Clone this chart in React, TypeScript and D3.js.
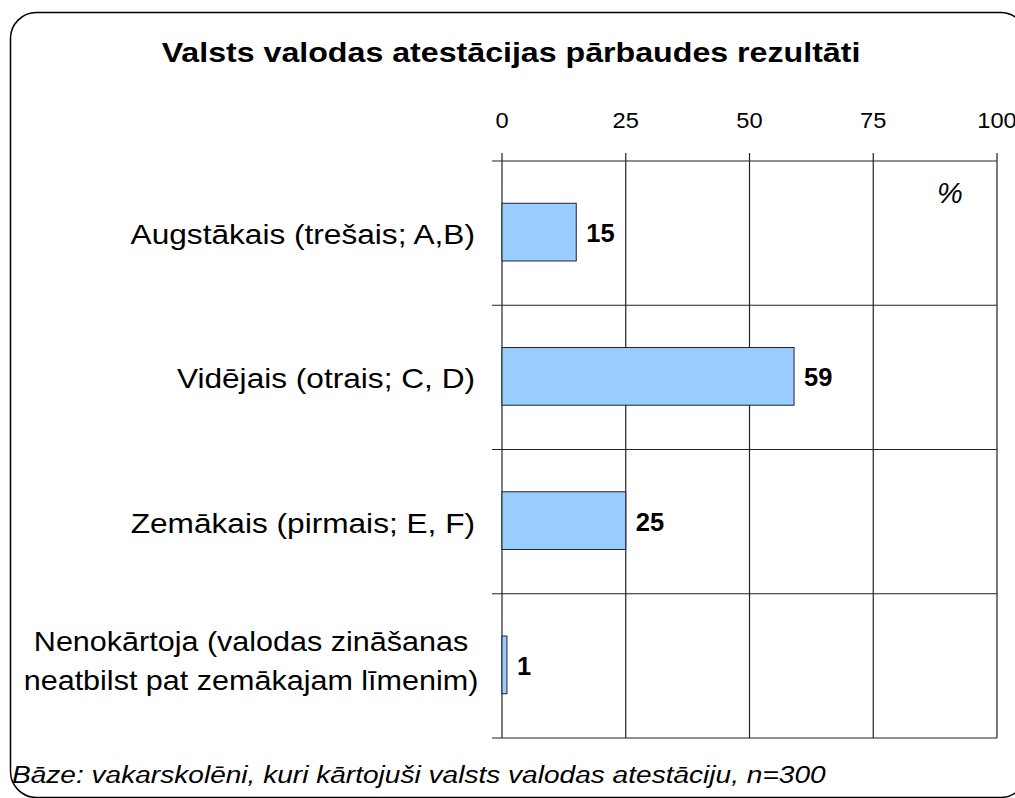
import React, { useEffect, useRef } from 'react'
import * as d3 from 'd3'

const title = 'Valsts valodas atestācijas pārbaudes rezultāti'
const footnote = 'Bāze: vakarskolēni, kuri kārtojuši valsts valodas atestāciju, n=300'
const categories = [
  ['Augstākais (trešais; A,B)'],
  ['Vidējais (otrais; C, D)'],
  ['Zemākais (pirmais; E, F)'],
  ['Nenokārtoja (valodas zināšanas', 'neatbilst pat zemākajam līmenim)'],
]
const values = [15, 59, 25, 1]
const ticks = [0, 25, 50, 75, 100]

const W = 1015
const H = 798
const FONT = '"Liberation Sans", Arial, sans-serif'
// text in the source image is a bit wider than it is tall
const SX = 1.17

export default function App() {
  const ref = useRef<SVGSVGElement>(null)

  useEffect(() => {
    const svg = d3.select(ref.current)
    svg.selectAll('*').remove()

    const left = 502
    const right = 997
    const top = 161
    const bottom = 738

    const stretched = (x: number, y: number, sx = SX) => `translate(${x},${y}) scale(${sx},1)`

    // frame
    svg.append('rect')
      .attr('x', 10.5).attr('y', 12.5)
      .attr('width', 1016).attr('height', 785)
      .attr('rx', 26)
      .attr('fill', 'white')
      .attr('stroke', '#000')
      .attr('stroke-width', 1.5)

    svg.append('text')
      .attr('transform', stretched(511, 62))
      .attr('text-anchor', 'middle')
      .attr('font-family', FONT)
      .attr('font-weight', 'bold')
      .attr('font-size', 27.5)
      .text(title)

    const x = d3.scaleLinear().domain([0, 100]).range([left, right])
    const y = d3.scaleBand<number>()
      .domain(d3.range(categories.length))
      .range([top, bottom])

    const grid = svg.append('g').attr('stroke', '#222').attr('stroke-width', 1.2)

    // vertical gridlines with ticks above
    grid.selectAll('line.v')
      .data(ticks)
      .join('line')
      .attr('class', 'v')
      .attr('x1', d => x(d)).attr('x2', d => x(d))
      .attr('y1', top - 8).attr('y2', bottom)

    // horizontal band boundaries with ticks to the left
    const bounds = d3.range(categories.length + 1).map(i => top + i * y.step())
    grid.selectAll('line.h')
      .data(bounds)
      .join('line')
      .attr('class', 'h')
      .attr('x1', left - 10).attr('x2', right)
      .attr('y1', d => d).attr('y2', d => d)

    // tick labels on top (the last one runs off the edge, as in the source)
    svg.append('g')
      .selectAll('text')
      .data(ticks)
      .join('text')
      .attr('transform', d => stretched(x(d), 128, 1.1))
      .attr('text-anchor', 'middle')
      .attr('font-family', FONT)
      .attr('font-size', 21.5)
      .text(d => d)

    // bars
    const barH = y.bandwidth() * 0.4
    svg.append('g')
      .selectAll('rect')
      .data(values)
      .join('rect')
      .attr('x', left)
      .attr('y', (_, i) => y(i)! + y.bandwidth() / 2 - barH / 2 - 1)
      .attr('width', d => x(d) - left)
      .attr('height', barH)
      .attr('fill', '#99ccff')
      .attr('stroke', '#223')
      .attr('stroke-width', 1)

    // value labels
    svg.append('g')
      .selectAll('text')
      .data(values)
      .join('text')
      .attr('x', d => x(d) + 10)
      .attr('y', (_, i) => y(i)! + y.bandwidth() / 2 + 9)
      .attr('font-family', FONT)
      .attr('font-weight', 'bold')
      .attr('font-size', 25.5)
      .text(d => d)

    // category labels: single lines right-aligned, wrapped ones centred
    const cat = svg.append('g')
      .selectAll('g')
      .data(categories)
      .join('g')
    cat.selectAll('text')
      .data((d, i) => d.map((line, j) => ({
        line,
        multi: d.length > 1,
        y: y(i)! + y.bandwidth() / 2 + 11 - (d.length - 1) * 26 + j * 39,
      })))
      .join('text')
      .attr('transform', d => d.multi
        ? stretched(251, d.y, 1.11)
        : stretched(left - 27, d.y, 1.15))
      .attr('text-anchor', d => (d.multi ? 'middle' : 'end'))
      .attr('font-family', FONT)
      .attr('font-size', 27.5)
      .text(d => d.line)

    svg.append('text')
      .attr('x', 950).attr('y', 203)
      .attr('text-anchor', 'middle')
      .attr('font-family', FONT)
      .attr('font-style', 'italic')
      .attr('font-size', 29)
      .text('%')

    svg.append('text')
      .attr('transform', stretched(12, 783))
      .attr('font-family', FONT)
      .attr('font-style', 'italic')
      .attr('font-size', 24)
      .text(footnote)
  }, [])

  return (
    <div style={{ position: 'absolute', left: 0, top: 0 }}>
      <svg ref={ref} width={W} height={H} style={{ display: 'block' }} />
    </div>
  )
}
